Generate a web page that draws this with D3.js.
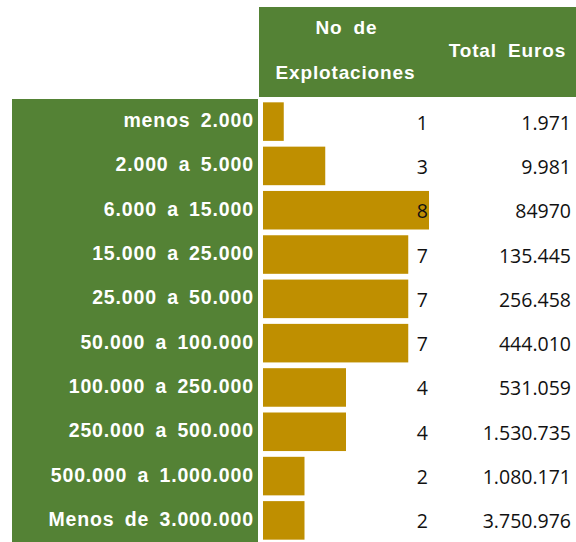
<!DOCTYPE html>
<html><head><meta charset="utf-8">
<script src="https://cdn.jsdelivr.net/npm/d3@7"></script>
<style>body{margin:0;background:#fff}</style>
</head><body>
<script>
const categories = ["menos 2.000","2.000 a 5.000","6.000 a 15.000","15.000 a 25.000","25.000 a 50.000","50.000 a 100.000","100.000 a 250.000","250.000 a 500.000","500.000 a 1.000.000","Menos de 3.000.000"];
const explotaciones = [1,3,8,7,7,7,4,4,2,2];
const totalEuros = ["1.971","9.981","84970","135.445","256.458","444.010","531.059","1.530.735","1.080.171","3.750.976"];
const headers = ["No de","Explotaciones","Total Euros"];

const W=576,H=542;
const green="#548235", gold="#BF8F00";
const svg=d3.select("body").append("svg").attr("width",W).attr("height",H);

const y=d3.scaleBand().domain(categories).range([101,541]).paddingInner(0.13).paddingOuter(0.03);
const x=d3.scaleLinear().domain([0,8]).range([263,429]);

svg.append("rect").attr("x",12).attr("y",99).attr("width",246).attr("height",H-99).attr("fill",green);
svg.append("rect").attr("x",259).attr("y",7).attr("width",W-259).attr("height",90).attr("fill",green);

const hf="'Liberation Sans', Arial, sans-serif";
const LS=0.85;
function hdr(t,xx,yy){
  svg.append("text").attr("x",xx+LS/2).attr("y",yy).attr("text-anchor","middle").attr("font-family",hf)
    .attr("font-weight","bold").attr("font-size",19).attr("letter-spacing",LS).attr("word-spacing","5px").attr("fill","#fff").text(t);
}
hdr(headers[0],346,34);
hdr(headers[1],345,79);
hdr(headers[2],507,57);

const rows=svg.selectAll("g.row").data(categories).join("g").attr("class","row");
rows.append("text").attr("x",253+LS).attr("y",d=>y(d)+y.bandwidth()/2+5.5).attr("text-anchor","end")
  .attr("font-family",hf).attr("font-weight","bold").attr("font-size",19.5).attr("letter-spacing",LS).attr("word-spacing","4px").attr("fill","#fff").text(d=>d);
rows.append("rect").attr("x",x(0)).attr("y",d=>y(d)).attr("height",y.bandwidth())
  .attr("width",(d,i)=>x(explotaciones[i])-x(0)).attr("fill",gold);
const nf="'Open Sans', 'Noto Sans', sans-serif";
rows.append("text").attr("x",428).attr("y",d=>y(d)+y.bandwidth()/2+8).attr("text-anchor","end")
  .attr("font-family",nf).attr("font-size",19.5).attr("fill","#111").text((d,i)=>explotaciones[i]);
rows.append("text").attr("x",571).attr("y",d=>y(d)+y.bandwidth()/2+8).attr("text-anchor","end")
  .attr("font-family",nf).attr("font-size",19.5).attr("fill","#111").text((d,i)=>totalEuros[i]);
</script>
</body></html>
